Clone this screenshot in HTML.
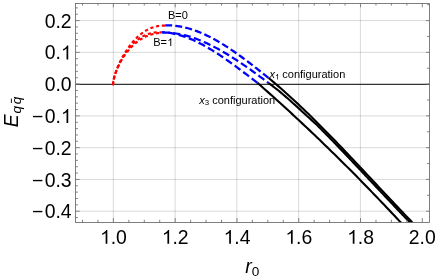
<!DOCTYPE html>
<html><head><meta charset="utf-8"><title>plot</title><style>html,body{margin:0;padding:0;background:#fff}svg{display:block}text{font-family:"Liberation Sans",sans-serif;fill:#000}</style></head><body>
<svg width="436" height="277" viewBox="0 0 436 277">
<rect width="436" height="277" fill="#fff"/>
<path d="M113.3 3.5V222.5M175.08 3.5V222.5M236.86 3.5V222.5M298.64 3.5V222.5M360.42 3.5V222.5" stroke="#000" stroke-opacity="0.15" stroke-width="1" fill="none"/>
<path d="M75.5 20.58H429.5M75.5 52.35H429.5M75.5 115.89H429.5M75.5 147.66H429.5M75.5 179.43H429.5M75.5 211.2H429.5" stroke="#000" stroke-opacity="0.15" stroke-width="1" fill="none"/>
<path d="M75.5 84.4H429.5" stroke="#333" stroke-width="1.1" fill="none"/>
<clipPath id="c"><rect x="75.5" y="3.5" width="354" height="219"/></clipPath>
<g clip-path="url(#c)" fill="none">
<path d="M112.85 85.3L113.1 84L113.11 83.65L113.13 83.26L113.18 82.84L113.23 82.37L113.31 81.87L113.4 81.33L113.51 80.76L113.63 80.16L113.78 79.53L113.93 78.86L114.11 78.17L114.3 77.44L114.51 76.69L114.74 75.92L114.98 75.12L115.24 74.29L115.51 73.45L115.8 72.58L116.11 71.69L116.44 70.79L116.78 69.86L117.14 68.92L117.52 67.96L117.91 66.99L118.32 66.01L118.74 65.01L119.19 64.01L119.64 62.99L120.12 61.97L120.61 60.94L121.12 59.9L121.65 58.85L122.19 57.81L122.75 56.76L123.33 55.71L123.92 54.66L124.53 53.61L125.15 52.56L125.8 51.51L126.46 50.47L127.13 49.44L127.83 48.41L128.54 47.39L129.26 46.38L130 45.37L130.76 44.38L131.54 43.41L132.33 42.44L133.14 41.49L133.97 40.56L134.81 39.64L135.67 38.74L136.55 37.86L137.44 37.01L138.35 36.17L139.28 35.35L140.22 34.57L141.18 33.8L142.16 33.06L143.15 32.35L144.16 31.67L145.19 31.02L146.23 30.4L147.29 29.81L148.37 29.25L149.46 28.73L150.57 28.25L151.7 27.8L152.84 27.39L154.01 27.02L155.18 26.69L156.38 26.4L157.59 26.15L158.81 25.95L160.06 25.79L161.32 25.68L162.6 25.61L163.89 25.6L165.2 25.63" stroke="#f00" stroke-width="2.1" stroke-dasharray="3.2 2.7" stroke-dashoffset="0"/>
<path d="M112.85 85.3L113.1 84L113.1 83.57L113.13 83.12L113.17 82.64L113.22 82.13L113.29 81.59L113.37 81.03L113.47 80.44L113.58 79.83L113.71 79.2L113.85 78.55L114.01 77.87L114.19 77.18L114.38 76.46L114.58 75.73L114.8 74.98L115.04 74.22L115.29 73.43L115.55 72.64L115.83 71.83L116.13 71L116.44 70.17L116.77 69.32L117.11 68.46L117.47 67.6L117.84 66.72L118.22 65.84L118.63 64.95L119.05 64.06L119.48 63.15L119.93 62.25L120.39 61.34L120.87 60.43L121.36 59.52L121.86 58.6L122.39 57.69L122.93 56.77L123.48 55.86L124.05 54.95L124.63 54.05L125.23 53.15L125.85 52.25L126.48 51.36L127.13 50.48L127.8 49.61L128.48 48.75L129.18 47.9L129.9 47.05L130.63 46.22L131.38 45.41L132.14 44.6L132.92 43.81L133.72 43.04L134.54 42.29L135.37 41.55L136.23 40.84L137.1 40.14L137.98 39.47L138.88 38.81L139.8 38.18L140.74 37.57L141.7 37L142.68 36.45L143.67 35.92L144.68 35.43L145.7 34.96L146.74 34.53L147.8 34.13L148.88 33.76L149.97 33.42L151.08 33.12L152.2 32.86L153.34 32.66L154.5 32.5L155.67 32.37L156.85 32.28L158.05 32.27L159.26 32.31L160.48 32.38L161.7 32.49" stroke="#f00" stroke-width="2.1" stroke-dasharray="3.2 2.7" stroke-dashoffset="0"/>
<path d="M112.85 85.3L113.1 84L113.11 83.57L113.13 83.12L113.17 82.64L113.23 82.13L113.3 81.59L113.39 81.03L113.5 80.45L113.62 79.84L113.75 79.21L113.9 78.56L114.07 77.89L114.26 77.2L114.45 76.49L114.67 75.76L114.9 75.01L115.15 74.25L115.41 73.48L115.69 72.69L115.99 71.88L116.3 71.07L116.63 70.24L116.97 69.4L117.33 68.56L117.71 67.7L118.1 66.84L118.5 65.97L118.93 65.09L119.36 64.21L119.82 63.33L120.29 62.44L120.78 61.55L121.28 60.66L121.8 59.77L122.34 58.88L122.89 57.99L123.46 57.11L124.04 56.22L124.64 55.35L125.25 54.47L125.88 53.61L126.53 52.75L127.19 51.9L127.86 51.05L128.55 50.22L129.26 49.39L129.97 48.58L130.71 47.78L131.46 46.99L132.22 46.22L133 45.46L133.79 44.72L134.6 44L135.41 43.28L136.24 42.59L137.09 41.91L137.95 41.25L138.82 40.62L139.71 40.01L140.61 39.42L141.53 38.85L142.45 38.29L143.39 37.76L144.35 37.26L145.32 36.78L146.3 36.33L147.3 35.9L148.31 35.5L149.34 35.13L150.38 34.79L151.44 34.48L152.51 34.2L153.59 33.92L154.69 33.67L155.81 33.46L156.95 33.29L158.11 33.11L159.28 32.97L160.48 32.86L161.7 32.79" stroke="#f00" stroke-width="2.1" stroke-dasharray="3.2 2.7" stroke-dashoffset="-1.1"/>
<path d="M165.2 25.31L166.95 25.28L168.71 25.3L170.46 25.36L172.21 25.47L173.96 25.62L175.72 25.81L177.47 26.05L179.22 26.32L180.97 26.63L182.73 26.99L184.48 27.38L186.23 27.81L187.98 28.28L189.74 28.78L191.49 29.32L193.24 29.9L194.99 30.51L196.75 31.15L198.5 31.83L200.25 32.54L202 33.28L203.76 34.06L205.51 34.86L207.26 35.69L209.01 36.55L210.77 37.44L212.52 38.36L214.27 39.31L216.02 40.28L217.78 41.27L219.53 42.29L221.28 43.34L223.03 44.41L224.79 45.5L226.54 46.61L228.29 47.74L230.04 48.9L231.8 50.07L233.55 51.27L235.3 52.48L237.05 53.71L238.81 54.96L240.56 56.22L242.31 57.5L244.06 58.79L245.82 60.1L247.57 61.42L249.32 62.76L251.07 64.11L252.83 65.46L254.58 66.83L256.33 68.21L258.08 69.6L259.84 71L261.59 72.41L263.34 73.82L265.09 75.24L266.85 76.66L268.6 78.09" stroke="#00f" stroke-width="2.25" stroke-dasharray="6.95 3.17" stroke-dashoffset="0"/>
<path d="M268.6 83.03L266.79 81.67L264.98 80.31L263.16 78.96L261.35 77.62L259.54 76.28L257.73 74.95L255.92 73.63L254.11 72.31L252.29 71.01L250.48 69.71L248.67 68.43L246.86 67.15L245.05 65.89L243.23 64.64L241.42 63.4L239.61 62.18L237.8 60.97L235.99 59.78L234.17 58.61L232.36 57.45L230.55 56.3L228.74 55.18L226.93 54.08L225.12 52.99L223.3 51.92L221.49 50.88L219.68 49.86L217.87 48.85L216.06 47.88L214.24 46.92L212.43 45.99L210.62 45.08L208.81 44.2L207 43.35L205.18 42.52L203.37 41.72L201.56 40.95L199.75 40.21L197.94 39.5L196.13 38.81L194.31 38.16L192.5 37.54L190.69 36.95L188.88 36.4L187.07 35.88L185.25 35.39L183.44 34.94L181.63 34.53L179.82 34.15L178.01 33.81L176.19 33.5L174.38 33.24L172.57 33.01L170.76 32.82L168.95 32.68L167.14 32.57L165.32 32.51L163.51 32.49L161.7 32.51" stroke="#00f" stroke-width="2.25" stroke-dasharray="7.3 3.4" stroke-dashoffset="5.3"/>
<path d="M257.5 82.93L255.88 81.69L254.25 80.44L252.63 79.19L251.01 77.94L249.38 76.7L247.76 75.45L246.13 74.21L244.51 72.98L242.89 71.74L241.26 70.52L239.64 69.3L238.02 68.08L236.39 66.88L234.77 65.68L233.14 64.49L231.52 63.31L229.9 62.14L228.27 60.98L226.65 59.83L225.03 58.7L223.4 57.58L221.78 56.47L220.15 55.38L218.53 54.31L216.91 53.25L215.28 52.2L213.66 51.18L212.04 50.17L210.41 49.19L208.79 48.22L207.16 47.27L205.54 46.35L203.92 45.45L202.29 44.57L200.67 43.71L199.05 42.88L197.42 42.08L195.8 41.3L194.17 40.54L192.55 39.82L190.93 39.12L189.3 38.45L187.68 37.82L186.06 37.21L184.43 36.63L182.81 36.09L181.18 35.57L179.56 35.09L177.94 34.65L176.31 34.24L174.69 33.86L173.07 33.53L171.44 33.23L169.82 32.96L168.19 32.74L166.57 32.55L164.95 32.41L163.32 32.3L161.7 32.24" stroke="#00f" stroke-width="2.25" stroke-dasharray="7.3 3.4" stroke-dashoffset="0"/>
<path d="M268.6 77.99L271.08 80.04L273.56 82.13L276.04 84.24L278.53 86.37L281.01 88.53L283.49 90.72L285.97 92.93L288.45 95.17L290.93 97.43L293.41 99.71L295.89 102.02L298.38 104.34L300.86 106.69L303.34 109.06L305.82 111.44L308.3 113.85L310.78 116.27L313.26 118.71L315.75 121.17L318.23 123.64L320.71 126.13L323.19 128.63L325.67 131.14L328.15 133.67L330.63 136.22L333.12 138.77L335.6 141.33L338.08 143.91L340.56 146.49L343.04 149.09L345.52 151.69L348 154.3L350.48 156.91L352.97 159.54L355.45 162.17L357.93 164.8L360.41 167.44L362.89 170.08L365.37 172.72L367.85 175.37L370.34 178.02L372.82 180.67L375.3 183.31L377.78 185.96L380.26 188.61L382.74 191.26L385.22 193.9L387.71 196.54L390.19 199.17L392.67 201.8L395.15 204.43L397.63 207.05L400.11 209.66L402.59 212.27L405.07 214.87L407.56 217.46L410.04 220.04L412.52 222.61L415 225.16" stroke="#000" stroke-width="2.1"/>
<path d="M268.6 82.98L269.18 83.44L270.66 84.56L272.15 85.69L273.64 86.82L275.13 87.96L276.62 89.11L278.09 90.27L279.49 91.43L280.88 92.6L282.27 93.78L283.67 94.96L285.06 96.15L286.45 97.35L287.85 98.55L289.25 99.76L290.62 100.97L291.98 102.19L293.34 103.42L294.71 104.65L296.07 105.89L297.44 107.14L298.81 108.39L300.17 109.64L301.54 110.9L302.9 112.17L304.27 113.44L305.64 114.72L307 116L308.43 117.28L309.86 118.57L311.29 119.87L312.71 121.17L314.14 122.47L315.57 123.78L317 125.09L318.39 126.41L319.71 127.73L321.02 129.06L322.33 130.39L323.65 131.72L324.96 133.05L326.28 134.39L327.59 135.74L328.91 137.08L330.22 138.43L331.53 139.79L332.85 141.14L334.16 142.5L335.48 143.86L336.79 145.23L338.1 146.59L339.42 147.96L340.73 149.33L342.05 150.71L343.36 152.08L344.68 153.46L345.99 154.84L347.3 156.22L348.62 157.61L349.93 158.99L351.25 160.38L352.56 161.77L353.88 163.16L355.19 164.55L356.5 165.95L357.82 167.34L359.13 168.73L360.45 170.13L361.76 171.53L363.08 172.92L364.39 174.32L365.7 175.72L367.02 177.12L368.33 178.52L369.65 179.92L370.96 181.32L372.28 182.72L373.59 184.12L374.9 185.52L376.22 186.92L377.53 188.31L378.85 189.71L380.16 191.11L381.48 192.51L382.79 193.9L384.1 195.3L385.42 196.69L386.73 198.08L388.05 199.48L389.36 200.87L390.68 202.25L391.99 203.64L393.3 205.03L394.62 206.41L395.93 207.79L397.25 209.17L398.56 210.55L399.88 211.93L401.19 213.3L402.5 214.68L403.82 216.04L405.13 217.41L406.45 218.78L407.76 220.14L409.07 221.5L410.39 222.85L411.7 224.2L413.02 225.55L414.33 226.9L415.65 228.24" stroke="#000" stroke-width="2.1"/>
<path d="M257.5 82.9L259.98 85.07L262.47 87.25L264.95 89.44L267.43 91.65L269.92 93.85L272.4 96.07L274.88 98.3L277.36 100.53L279.85 102.78L282.33 105.03L284.81 107.29L287.3 109.56L289.78 111.84L292.26 114.12L294.75 116.42L297.23 118.72L299.71 121.03L302.19 123.36L304.68 125.69L307.16 128.02L309.64 130.37L312.13 132.73L314.61 135.09L317.09 137.46L319.58 139.85L322.06 142.24L324.54 144.64L327.03 147.04L329.51 149.46L331.99 151.89L334.47 154.32L336.96 156.76L339.44 159.21L341.92 161.67L344.41 164.14L346.89 166.62L349.37 169.1L351.86 171.6L354.34 174.1L356.82 176.61L359.31 179.13L361.79 181.66L364.27 184.2L366.75 186.75L369.24 189.3L371.72 191.86L374.2 194.44L376.69 197.02L379.17 199.61L381.65 202.2L384.14 204.81L386.62 207.43L389.1 210.05L391.58 212.68L394.07 215.32L396.55 217.97L399.03 220.63L401.52 223.3L404 225.98" stroke="#000" stroke-width="2.1"/>
</g>
<path d="M82.51 222.5v-2.7M82.51 3.5v2M97.95 222.5v-2.7M97.95 3.5v2M128.85 222.5v-2.7M128.85 3.5v2M144.29 222.5v-2.7M144.29 3.5v2M159.73 222.5v-2.7M159.73 3.5v2M190.62 222.5v-2.7M190.62 3.5v2M206.07 222.5v-2.7M206.07 3.5v2M221.52 222.5v-2.7M221.52 3.5v2M252.4 222.5v-2.7M252.4 3.5v2M267.85 222.5v-2.7M267.85 3.5v2M283.3 222.5v-2.7M283.3 3.5v2M314.18 222.5v-2.7M314.18 3.5v2M329.63 222.5v-2.7M329.63 3.5v2M345.07 222.5v-2.7M345.07 3.5v2M375.97 222.5v-2.7M375.97 3.5v2M391.41 222.5v-2.7M391.41 3.5v2M406.86 222.5v-2.7M406.86 3.5v2M75.5 217.55h2.4M75.5 204.85h2.4M75.5 198.49h2.4M75.5 192.14h2.4M75.5 185.78h2.4M75.5 173.08h2.4M75.5 166.72h2.4M75.5 160.37h2.4M75.5 154.01h2.4M75.5 141.31h2.4M75.5 134.95h2.4M75.5 128.6h2.4M75.5 122.24h2.4M75.5 109.54h2.4M75.5 103.18h2.4M75.5 96.83h2.4M75.5 90.47h2.4M75.5 77.77h2.4M75.5 71.41h2.4M75.5 65.06h2.4M75.5 58.7h2.4M75.5 46h2.4M75.5 39.64h2.4M75.5 33.29h2.4M75.5 26.93h2.4M75.5 14.23h2.4M75.5 7.87h2.4M429.5 195.31h-2.4M429.5 163.55h-2.4M429.5 131.78h-2.4M429.5 100.01h-2.4M429.5 68.23h-2.4M429.5 36.47h-2.4M429.5 4.7h-2.4" stroke="#7c7c7c" stroke-width="0.95" fill="none"/>
<path d="M113.4 222.5v-4.5M113.4 3.5v3.8M175.18 222.5v-4.5M175.18 3.5v3.8M236.96 222.5v-4.5M236.96 3.5v3.8M298.74 222.5v-4.5M298.74 3.5v3.8M360.52 222.5v-4.5M360.52 3.5v3.8M422.3 222.5v-4.5M422.3 3.5v3.8M75.5 211.2h4.2M75.5 179.43h4.2M75.5 147.66h4.2M75.5 115.89h4.2M75.5 84.12h4.2M75.5 52.35h4.2M75.5 20.58h4.2M429.5 211.2h-3.5M429.5 179.43h-3.5M429.5 147.66h-3.5M429.5 115.89h-3.5M429.5 84.12h-3.5M429.5 52.35h-3.5M429.5 20.58h-3.5" stroke="#777" stroke-width="0.9" fill="none"/>
<rect x="75.5" y="3.5" width="354" height="219" fill="none" stroke="#686868" stroke-width="0.85"/>
<g style="will-change:transform;filter:grayscale(1)">
<path d="M763 0H583V1147Q518 1085 412.5 1023T223 930V1104Q373 1174.5 485.5 1275T645 1470H763Z" transform="translate(100.12,243.8) scale(0.00947,-0.00947)"/><text x="110.7" y="243.8" font-size="19.4">.0</text>
<path d="M763 0H583V1147Q518 1085 412.5 1023T223 930V1104Q373 1174.5 485.5 1275T645 1470H763Z" transform="translate(161.9,243.8) scale(0.00947,-0.00947)"/><text x="172.48" y="243.8" font-size="19.4">.2</text>
<path d="M763 0H583V1147Q518 1085 412.5 1023T223 930V1104Q373 1174.5 485.5 1275T645 1470H763Z" transform="translate(223.68,243.8) scale(0.00947,-0.00947)"/><text x="234.26" y="243.8" font-size="19.4">.4</text>
<path d="M763 0H583V1147Q518 1085 412.5 1023T223 930V1104Q373 1174.5 485.5 1275T645 1470H763Z" transform="translate(285.46,243.8) scale(0.00947,-0.00947)"/><text x="296.04" y="243.8" font-size="19.4">.6</text>
<path d="M763 0H583V1147Q518 1085 412.5 1023T223 930V1104Q373 1174.5 485.5 1275T645 1470H763Z" transform="translate(347.24,243.8) scale(0.00947,-0.00947)"/><text x="357.82" y="243.8" font-size="19.4">.8</text>
<text x="408.82" y="243.8" font-size="19.4">2.0</text>
<text x="44.63" y="27.68" font-size="19.4">0.2</text>
<text x="44.63" y="59.45" font-size="19.4">0.</text><path d="M763 0H583V1147Q518 1085 412.5 1023T223 930V1104Q373 1174.5 485.5 1275T645 1470H763Z" transform="translate(61.01,59.45) scale(0.00947,-0.00947)"/>
<text x="44.63" y="91.4" font-size="19.4">0.0</text>
<text x="44.63" y="122.99" font-size="19.4">0.</text><path d="M763 0H583V1147Q518 1085 412.5 1023T223 930V1104Q373 1174.5 485.5 1275T645 1470H763Z" transform="translate(61.01,122.99) scale(0.00947,-0.00947)"/>
<text x="32" y="122.99" font-size="19.4">−</text>
<text x="44.63" y="154.76" font-size="19.4">0.2</text>
<text x="32" y="154.76" font-size="19.4">−</text>
<text x="44.63" y="186.53" font-size="19.4">0.3</text>
<text x="32" y="186.53" font-size="19.4">−</text>
<text x="44.63" y="218.3" font-size="19.4">0.4</text>
<text x="32" y="218.3" font-size="19.4">−</text>
<text x="245.2" y="272.8" font-size="19.4" font-style="italic">r<tspan font-size="13.6" font-style="normal" dy="3.1">0</tspan></text>
<g transform="translate(17.9,127.2) rotate(-90)"><text x="0" y="0" font-size="19.4" font-style="italic">E<tspan font-size="13.6" dy="2.6" dx="0.7">q</tspan><tspan font-size="13.6" dx="1.8">q</tspan></text><path d="M24.2 -6.5h4.4" stroke="#000" stroke-width="0.9" fill="none"/></g>
<text x="168" y="19.4" font-size="11">B=0</text>
<text x="153.2" y="46.1" font-size="11">B=</text><path d="M763 0H583V1147Q518 1085 412.5 1023T223 930V1104Q373 1174.5 485.5 1275T645 1470H763Z" transform="translate(167.16,46.1) scale(0.00537,-0.00537)"/>
<text x="269.4" y="77.7" font-size="11"><tspan font-style="italic">x</tspan><tspan dx="4.34" dy="0"> configuration</tspan></text>
<path d="M763 0H583V1147Q518 1085 412.5 1023T223 930V1104Q373 1174.5 485.5 1275T645 1470H763Z" transform="translate(275.1,79.5) scale(0.00381,-0.00381)"/>
<text x="199.3" y="103.5" font-size="11"><tspan font-style="italic">x</tspan><tspan font-size="7.8" dy="1.8">3</tspan><tspan dy="-1.8"> configuration</tspan></text>
</g>
</svg></body></html>
